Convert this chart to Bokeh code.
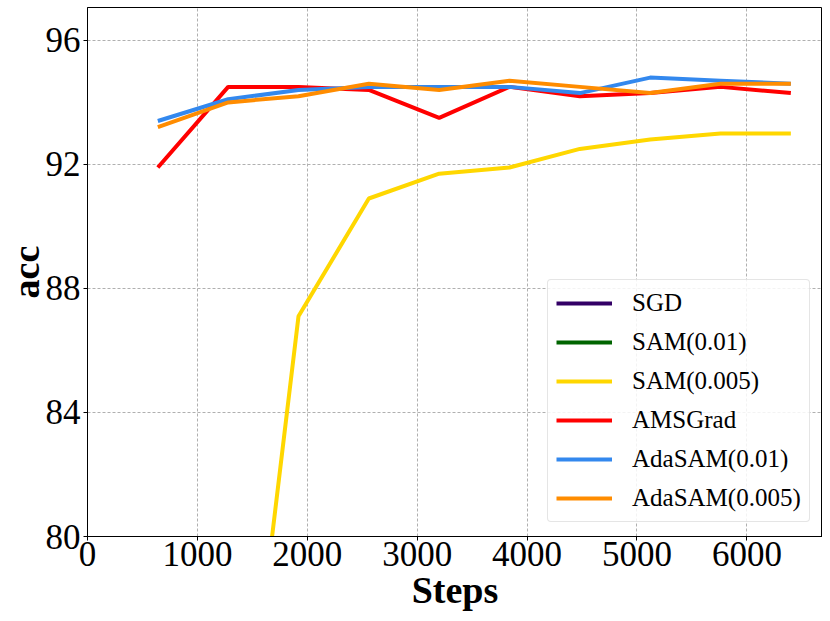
from bokeh.plotting import figure
from bokeh.models import FixedTicker, Range1d, Legend, LegendItem, ColumnDataSource
from bokeh.embed import file_html
from bokeh.resources import INLINE

nan = float("nan")
steps = [640, 1280, 1920, 2560, 3200, 3840, 4480, 5120, 5760, 6400]
# SGD and SAM(0.01) have no visible points in the plotted range
sgd = [nan] * 10
sam_001 = [nan] * 10
sam_0005 = [50.0, 68.2, 87.1, 90.9, 91.7, 91.9, 92.5, 92.8, 93.0, 93.0]
amsgrad = [91.9, 94.5, 94.5, 94.4, 93.5, 94.5, 94.2, 94.3, 94.5, 94.3]
adasam_001 = [93.4, 94.1, 94.4, 94.5, 94.5, 94.5, 94.3, 94.8, 94.7, 94.6]
adasam_0005 = [93.2, 94.0, 94.2, 94.6, 94.4, 94.7, 94.5, 94.3, 94.6, 94.6]

x_ticks = [0, 1000, 2000, 3000, 4000, 5000, 6000]
y_ticks = [80, 84, 88, 92, 96]

FONT = "Liberation Serif"

p = figure(width=822, height=613, output_backend="svg", toolbar_location=None,
           x_range=Range1d(0, 6688), y_range=Range1d(80, 97.06),
           min_border_left=87, min_border_right=0, min_border_top=7, min_border_bottom=77)

series = [
    ("SGD", steps, sgd, "#330066"),
    ("SAM(0.01)", steps, sam_001, "#006400"),
    ("SAM(0.005)", steps, sam_0005, "#FFD700"),
    ("AMSGrad", steps, amsgrad, "#FF0000"),
    ("AdaSAM(0.01)", steps, adasam_001, "#3388EE"),
    ("AdaSAM(0.005)", steps, adasam_0005, "#FF8C00"),
]
items = []
for name, xs, ys, col in series:
    src = ColumnDataSource(dict(x=list(xs), y=list(ys)))
    r = p.line("x", "y", source=src, line_color=col, line_width=4)
    items.append(LegendItem(label=name, renderers=[r], index=0))

legend = Legend(items=items, location=(460, 14))
legend.label_text_font = FONT
legend.label_text_font_size = "25px"
legend.label_text_color = "black"
legend.glyph_width = 56
legend.glyph_height = 30
legend.label_height = 30
legend.spacing = 9
legend.label_standoff = 20
legend.padding = 8
legend.margin = 0
legend.border_line_color = "#cccccc"
legend.border_line_width = 1
legend.border_radius = 4
legend.background_fill_alpha = 0.85
p.add_layout(legend)

p.outline_line_color = "black"
p.outline_line_width = 1

p.xaxis.ticker = FixedTicker(ticks=x_ticks)
p.yaxis.ticker = FixedTicker(ticks=y_ticks)
for ax in (p.xaxis[0], p.yaxis[0]):
    ax.major_label_text_font = FONT
    ax.major_label_text_font_size = "35px"
    ax.major_label_text_color = "black"
    ax.axis_label_text_font = FONT
    ax.axis_label_text_font_size = "38px"
    ax.axis_label_text_font_style = "bold"
    ax.axis_label_text_color = "black"
    ax.minor_tick_line_color = None
    ax.major_tick_out = 4
    ax.major_tick_in = 0
    ax.major_tick_line_color = "black"
    ax.axis_line_color = "black"
p.xaxis.axis_label = "Steps"
p.yaxis.axis_label = "acc"
p.xaxis.major_label_standoff = 1
p.yaxis.major_label_standoff = 3
p.xaxis.axis_label_standoff = 0
p.yaxis.axis_label_standoff = -4

p.grid.grid_line_color = "#b0b0b0"
p.grid.grid_line_dash = "3 2"
p.grid.grid_line_width = 1

open("out.html", "w").write(file_html(p, INLINE))
